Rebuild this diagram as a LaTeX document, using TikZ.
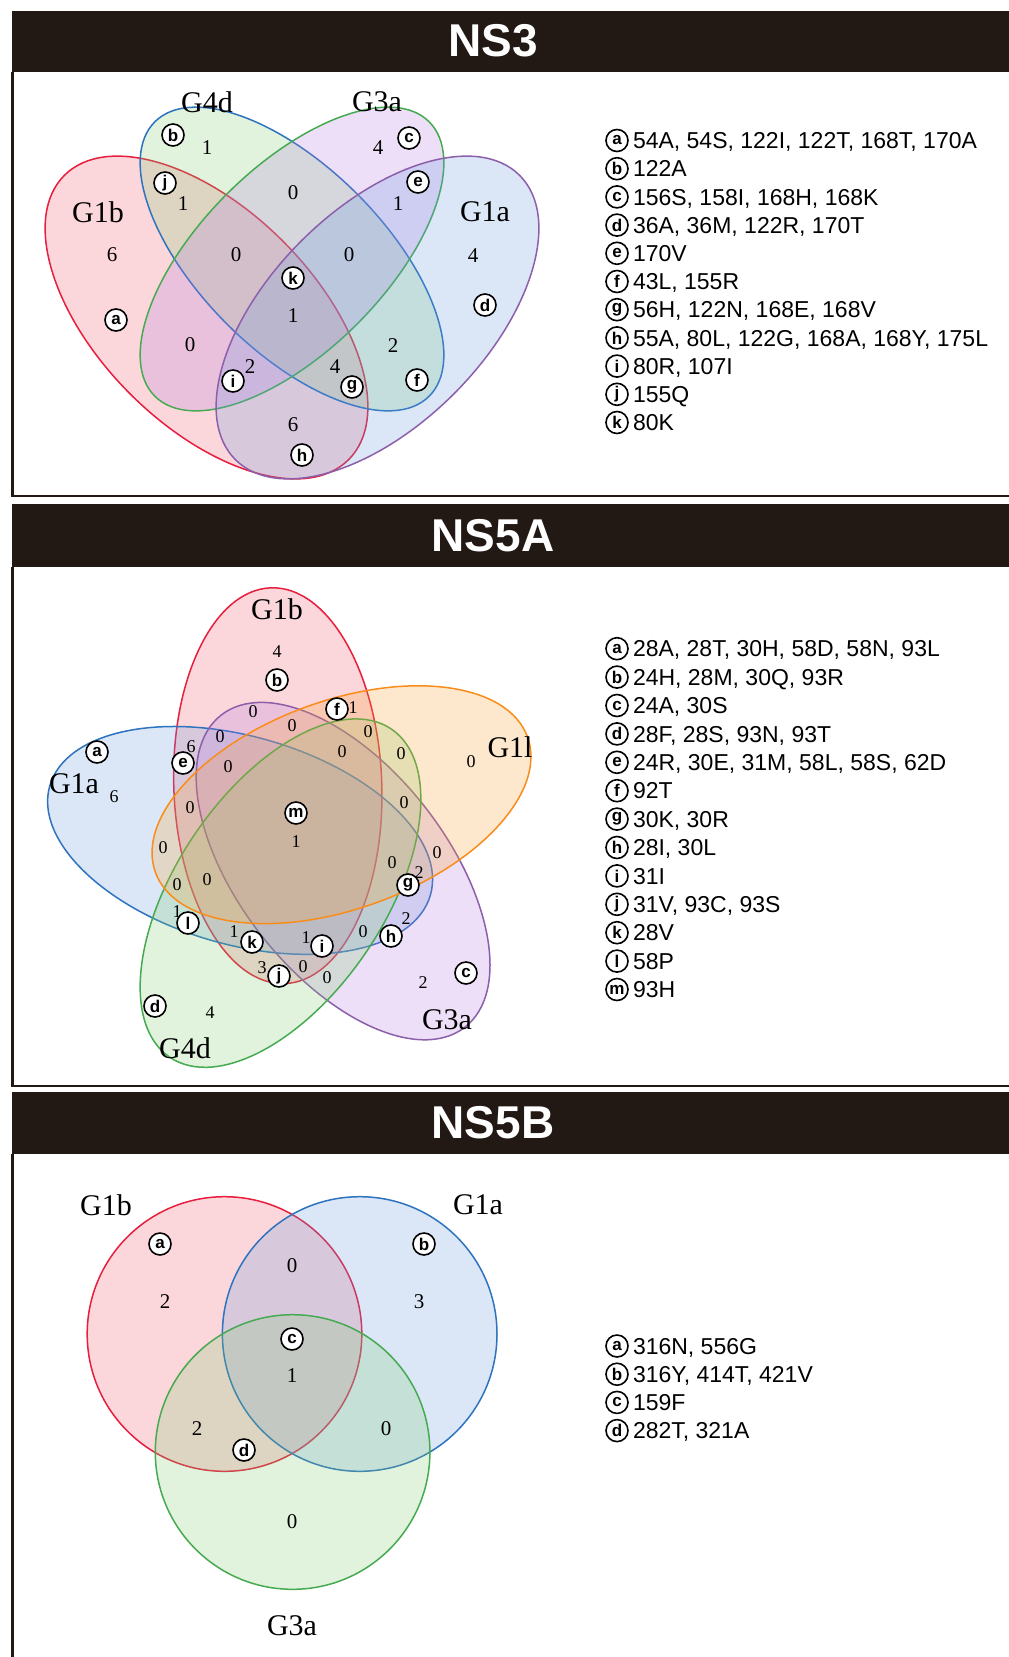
\documentclass[tikz,border=0pt]{standalone}
\usepackage{fontspec}
\setmainfont{Liberation Serif}
\setsansfont{Liberation Sans}
\usepackage{tikz}
\usetikzlibrary{positioning}
\usepackage{xcolor}
\definecolor{bar-black}{RGB}{34,24,20}
\definecolor{venn-red}{RGB}{232,30,62}
\definecolor{venn-blue}{RGB}{45,115,190}
\definecolor{venn-green}{RGB}{70,170,80}
\definecolor{venn-purple}{RGB}{140,95,170}
\definecolor{venn-orange}{RGB}{250,140,25}
\definecolor{fill-pink}{RGB}{240,90,105}
\definecolor{fill-green}{RGB}{130,205,115}
\definecolor{fill-purple}{RGB}{180,125,225}
\definecolor{fill-blue}{RGB}{105,155,225}
\definecolor{fill-orange}{RGB}{250,160,50}
\tikzstyle{setlabel}=[font=\fontsize{30}{30}\selectfont, inner sep=0pt]
\tikzstyle{nnum}=[font=\fontsize{21}{21}\selectfont, inner sep=0pt]
\tikzstyle{snum}=[font=\fontsize{18}{18}\selectfont, inner sep=0pt]
\tikzstyle{mutag}=[circle, draw, fill=white, line width=1.6pt, inner sep=0pt, minimum size=22pt, font=\sffamily\bfseries\fontsize{17}{17}\selectfont]
\tikzstyle{legtext}=[font=\sffamily\fontsize{23}{23}\selectfont, inner sep=0pt, text height=16.5pt, text depth=0pt]
\tikzstyle{bartitle}=[text=white, font=\sffamily\bfseries\fontsize{46}{46}\selectfont]
\tikzstyle{vennline}=[line width=1.5pt, fill opacity=0.24]
\newcommand{\vennset}[6]{
	\draw[vennline, draw=#5, fill=#6, rotate around={#2:#1}] #1 ellipse [x radius=#3, y radius=#4];
}
\newcommand{\legline}[4]{
	\node[mutag] (#1) at (617,#2) {#3};
	\node[legtext, right=4pt of #1] (#1-t) {#4};
}

\begin{document}
\begin{tikzpicture}[x=1pt, y=-1pt]
	\useasboundingbox (0,0) rectangle (1009,1657);
	\fill[white] (0,0) rectangle (1009,1657);
	% NS3
	\fill[bar-black] (11.5,10.5) rectangle (1009,72);
	\node[bartitle] (ns3) at (493,41) {NS3};
	\draw[line width=2.5pt, bar-black] (12.7,72) -- (12.7,496) -- (1009,496);
	\vennset{(206.5,317.5)}{-45}{201}{108}{venn-red}{fill-pink}
	\vennset{(292,259)}{-45}{194}{92}{venn-blue}{fill-green}
	\vennset{(292,259)}{45}{194}{92}{venn-green}{fill-purple}
	\vennset{(377.5,317.5)}{45}{201}{108}{venn-purple}{fill-blue}
	\node[setlabel] (g4d3) at (207,102) {G4d};
	\node[setlabel] (g3a3) at (377,102) {G3a};
	\node[setlabel] (g1b3) at (98,212) {G1b};
	\node[setlabel] (g1a3) at (485,212) {G1a};
	\node[nnum] (c3-1) at (207,148) {1};
	\node[nnum] (c3-2) at (378,148) {4};
	\node[nnum] (c3-3) at (183,204) {1};
	\node[nnum] (c3-4) at (293,193) {0};
	\node[nnum] (c3-5) at (398,204) {1};
	\node[nnum] (c3-6) at (112,255) {6};
	\node[nnum] (c3-7) at (236,255) {0};
	\node[nnum] (c3-8) at (349,255) {0};
	\node[nnum] (c3-9) at (473,256) {4};
	\node[nnum] (c3-10) at (293,316) {1};
	\node[nnum] (c3-11) at (190,345) {0};
	\node[nnum] (c3-12) at (393,346) {2};
	\node[nnum] (c3-13) at (250,367) {2};
	\node[nnum] (c3-14) at (335,367) {4};
	\node[nnum] (c3-15) at (293,425) {6};
	\node[mutag] (v3a) at (116,320) {a};
	\node[mutag] (v3b) at (173,135) {b};
	\node[mutag] (v3c) at (409,138) {c};
	\node[mutag] (v3d) at (485,305) {d};
	\node[mutag] (v3e) at (418,182) {e};
	\node[mutag] (v3f) at (417,380) {f};
	\node[mutag] (v3g) at (352,387) {g};
	\node[mutag] (v3h) at (302,455) {h};
	\node[mutag] (v3i) at (233,381) {i};
	\node[mutag] (v3j) at (165,183) {j};
	\node[mutag] (v3k) at (293,278) {k};
	\legline{l3a}{140.5}{a}{54A, 54S, 122I, 122T, 168T, 170A}
	\legline{l3b}{168.7}{b}{122A}
	\legline{l3c}{196.9}{c}{156S, 158I, 168H, 168K}
	\legline{l3d}{225.1}{d}{36A, 36M, 122R, 170T}
	\legline{l3e}{253.3}{e}{170V}
	\legline{l3f}{281.5}{f}{43L, 155R}
	\legline{l3g}{309.7}{g}{56H, 122N, 168E, 168V}
	\legline{l3h}{337.9}{h}{55A, 80L, 122G, 168A, 168Y, 175L}
	\legline{l3i}{366.1}{i}{80R, 107I}
	\legline{l3j}{394.3}{j}{155Q}
	\legline{l3k}{422.5}{k}{80K}
	% NS5A
	\fill[bar-black] (11.5,504) rectangle (1009,567);
	\node[bartitle] (ns5a) at (493,535.5) {NS5A};
	\draw[line width=2.5pt, bar-black] (12.7,567) -- (12.7,1086) -- (1009,1086);
	\vennset{(277.8,785.7)}{92}{198}{104}{venn-red}{fill-pink}
	\vennset{(240.1,840.4)}{164}{198}{104}{venn-blue}{fill-blue}
	\vennset{(343.1,871.1)}{128}{198}{104}{venn-purple}{fill-purple}
	\vennset{(280.5,893.1)}{56}{198}{104}{venn-green}{fill-green}
	\vennset{(341.5,804.7)}{20}{198}{104}{venn-orange}{fill-orange}
	\node[setlabel] (g1b5) at (277,609) {G1b};
	\node[setlabel] (g1l5) at (510,747) {G1l};
	\node[setlabel] (g1a5) at (74,784) {G1a};
	\node[setlabel] (g3a5) at (447,1020) {G3a};
	\node[setlabel] (g4d5) at (185,1048) {G4d};
	\node[snum] (c5-1) at (277,652) {4};
	\node[snum] (c5-2) at (253,712) {0};
	\node[snum] (c5-3) at (353,708) {1};
	\node[snum] (c5-4) at (292,726) {0};
	\node[snum] (c5-5) at (368,732) {0};
	\node[snum] (c5-6) at (191,747) {6};
	\node[snum] (c5-7) at (220,737) {0};
	\node[snum] (c5-8) at (228,767) {0};
	\node[snum] (c5-9) at (342,752) {0};
	\node[snum] (c5-10) at (401,754) {0};
	\node[snum] (c5-11) at (471,762) {0};
	\node[snum] (c5-12) at (114,797) {6};
	\node[snum] (c5-13) at (190,808) {0};
	\node[snum] (c5-14) at (404,803) {0};
	\node[snum] (c5-15) at (296,842) {1};
	\node[snum] (c5-16) at (163,848) {0};
	\node[snum] (c5-17) at (437,853) {0};
	\node[snum] (c5-18) at (177,885) {0};
	\node[snum] (c5-19) at (207,880) {0};
	\node[snum] (c5-20) at (392,863) {0};
	\node[snum] (c5-21) at (419,873) {2};
	\node[snum] (c5-22) at (177,912) {1};
	\node[snum] (c5-23) at (234,932) {1};
	\node[snum] (c5-24) at (306,938) {1};
	\node[snum] (c5-25) at (363,932) {0};
	\node[snum] (c5-26) at (406,919) {2};
	\node[snum] (c5-27) at (262,968) {3};
	\node[snum] (c5-28) at (303,967) {0};
	\node[snum] (c5-29) at (327,978) {0};
	\node[snum] (c5-30) at (210,1013) {4};
	\node[snum] (c5-31) at (423,983) {2};
	\node[mutag] (v5a) at (97,752) {a};
	\node[mutag] (v5b) at (277,680) {b};
	\node[mutag] (v5c) at (466,973) {c};
	\node[mutag] (v5d) at (155,1006) {d};
	\node[mutag] (v5e) at (183,763) {e};
	\node[mutag] (v5f) at (337,709) {f};
	\node[mutag] (v5g) at (408,885) {g};
	\node[mutag] (v5h) at (391,936) {h};
	\node[mutag] (v5i) at (322,946) {i};
	\node[mutag] (v5j) at (279,976) {j};
	\node[mutag] (v5k) at (252,942) {k};
	\node[mutag] (v5l) at (188,923) {l};
	\node[mutag] (v5m) at (296,813) {m};
	\legline{l5a}{648.7}{a}{28A, 28T, 30H, 58D, 58N, 93L}
	\legline{l5b}{677.1}{b}{24H, 28M, 30Q, 93R}
	\legline{l5c}{705.5}{c}{24A, 30S}
	\legline{l5d}{733.9}{d}{28F, 28S, 93N, 93T}
	\legline{l5e}{762.3}{e}{24R, 30E, 31M, 58L, 58S, 62D}
	\legline{l5f}{790.7}{f}{92T}
	\legline{l5g}{819.1}{g}{30K, 30R}
	\legline{l5h}{847.5}{h}{28I, 30L}
	\legline{l5i}{875.9}{i}{31I}
	\legline{l5j}{904.3}{j}{31V, 93C, 93S}
	\legline{l5k}{932.7}{k}{28V}
	\legline{l5l}{961.1}{l}{58P}
	\legline{l5m}{989.5}{m}{93H}
	% NS5B
	\fill[bar-black] (11.5,1092) rectangle (1009,1154);
	\node[bartitle] (ns5b) at (493,1123) {NS5B};
	\draw[line width=2.5pt, bar-black] (12.7,1154) -- (12.7,1657);
	\vennset{(224.5,1334)}{0}{137.3}{137.3}{venn-red}{fill-pink}
	\vennset{(359.7,1334)}{0}{137.3}{137.3}{venn-blue}{fill-blue}
	\vennset{(292.6,1452)}{0}{137.3}{137.3}{venn-green}{fill-green}
	\node[setlabel] (g1bb) at (106,1205) {G1b};
	\node[setlabel] (g1ab) at (478,1205) {G1a};
	\node[setlabel] (g3ab) at (292,1626) {G3a};
	\node[nnum] (cb-1) at (292,1266) {0};
	\node[nnum] (cb-2) at (165,1302) {2};
	\node[nnum] (cb-3) at (419,1302) {3};
	\node[nnum] (cb-4) at (292,1376) {1};
	\node[nnum] (cb-5) at (197,1429) {2};
	\node[nnum] (cb-6) at (386,1429) {0};
	\node[nnum] (cb-7) at (292,1522) {0};
	\node[mutag] (vba) at (160,1244) {a};
	\node[mutag] (vbb) at (424,1244) {b};
	\node[mutag] (vbc) at (292,1339) {c};
	\node[mutag] (vbd) at (244,1450) {d};
	\legline{lba}{1346}{a}{316N, 556G}
	\legline{lbb}{1374.2}{b}{316Y, 414T, 421V}
	\legline{lbc}{1402.4}{c}{159F}
	\legline{lbd}{1430.6}{d}{282T, 321A}
\end{tikzpicture}
\end{document}
